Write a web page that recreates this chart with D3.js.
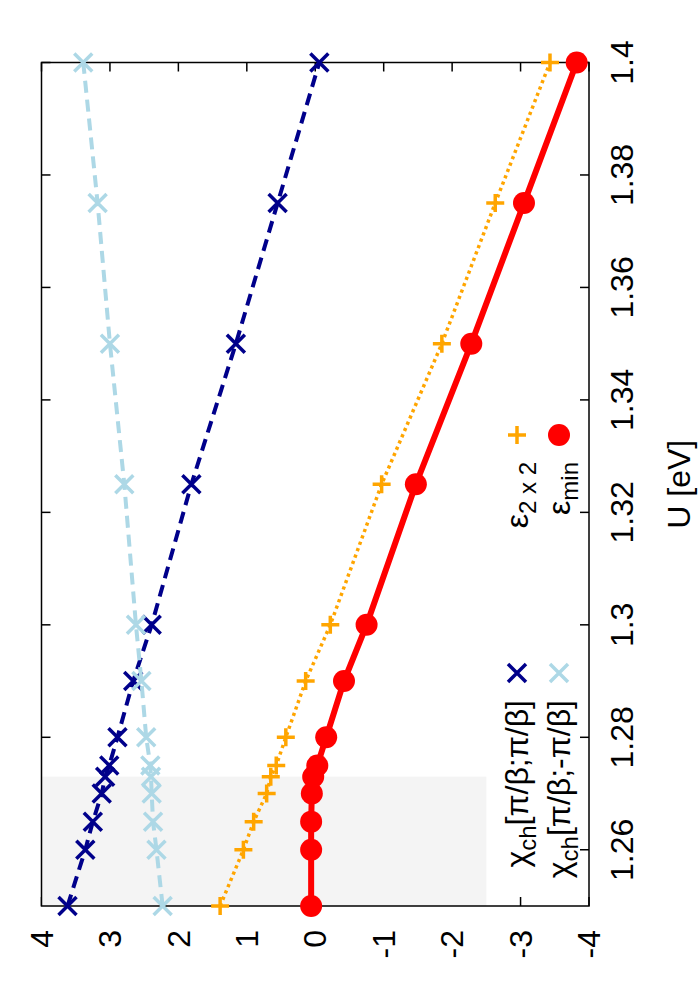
<!DOCTYPE html>
<html>
<head>
<meta http-equiv="Content-Type" content="text/html; charset=utf-8" />
<title>chi / epsilon vs U</title>
<script type="text/javascript" src="https://cdn.jsdelivr.net/npm/d3@7/dist/d3.min.js"></script>
<style>
body { margin:0; background:#fff; }
text { font-family: "Liberation Sans", Arial, Helvetica, sans-serif; }
</style>
</head>
<body>
<div id="chart"></div>

<script>
// data (U in eV)
var U        = [1.25, 1.26, 1.265, 1.27, 1.273, 1.275, 1.28, 1.29, 1.3, 1.325, 1.35, 1.375, 1.4];
var chiPP    = [3.62, 3.36, 3.25, 3.12, 3.07, 3.01, 2.89, 2.66, 2.39, 1.81, 1.16, 0.55, -0.06];
var chiPM    = [2.23, 2.32, 2.37, 2.39, 2.40, 2.41, 2.47, 2.54, 2.62, 2.79, 3.00, 3.18, 3.39];
var eps2x2   = [1.39, 1.05, 0.90, 0.71, 0.65, 0.57, 0.43, 0.14, -0.22, -0.97, -1.85, -2.63, -3.43];
var epsMin   = [0.06, 0.06, 0.06, 0.05, 0.03, -0.03, -0.16, -0.42, -0.75, -1.47, -2.28, -3.05, -3.82];

var xTicks = [1.26, 1.28, 1.3, 1.32, 1.34, 1.36, 1.38, 1.4];
var xTickLabels = ["1.26", "1.28", "1.3", "1.32", "1.34", "1.36", "1.38", "1.4"];
var yTicks = [-4, -3, -2, -1, 0, 1, 2, 3, 4];
var yTickLabels = ["-4", "-3", "-2", "-1", "0", "1", "2", "3", "4"];

// shaded region (U range, value range)
var shadeU = [1.25, 1.273];
var shadeV = [-2.5, 4];

// page is 700x1000, chart is drawn landscape 1000x700 then turned -90deg
const W = 1000, H = 700;
const margin = ({top: 41.5, right: 62.5, bottom: 111, left: 94});

const svg = d3.select("#chart").append("svg")
	.attr("width", 700)
	.attr("height", 1000);
svg.append("rect").attr("width", 700).attr("height", 1000).attr("fill", "#fff");

const g = svg.append("g")
	.attr("transform", "translate(0,1000) rotate(-90)");

var x = d3.scaleLinear().domain([1.25, 1.4]).range([margin.left, W - margin.right]);
var y = d3.scaleLinear().domain([-4, 4]).range([H - margin.bottom, margin.top]);

var x0 = x.range()[0], x1 = x.range()[1];
var y0 = y.range()[1], y1 = y.range()[0];
var tickLen = 9;

// ticks on all four sides (drawn under the grey box)
var ticks = g.append("g").attr("stroke", "#000").attr("stroke-width", 1.5);
xTicks.forEach(function(t){
	ticks.append("line").attr("x1", x(t)).attr("x2", x(t)).attr("y1", y1).attr("y2", y1 - tickLen);
	ticks.append("line").attr("x1", x(t)).attr("x2", x(t)).attr("y1", y0).attr("y2", y0 + tickLen);
});
yTicks.forEach(function(t){
	ticks.append("line").attr("x1", x0).attr("x2", x0 + tickLen).attr("y1", y(t)).attr("y2", y(t));
	ticks.append("line").attr("x1", x1).attr("x2", x1 - tickLen).attr("y1", y(t)).attr("y2", y(t));
});

g.append("rect")
	.attr("x", x(shadeU[0]))
	.attr("y", y(shadeV[1]))
	.attr("width", x(shadeU[1]) - x(shadeU[0]))
	.attr("height", y(shadeV[0]) - y(shadeV[1]))
	.attr("fill", "#f4f4f4");

g.append("rect")
	.attr("x", x0).attr("y", y0)
	.attr("width", x1 - x0).attr("height", y1 - y0)
	.attr("fill", "none")
	.attr("stroke", "#000")
	.attr("stroke-width", 1.5);

// tick labels
g.append("g").selectAll("text")
	.data(xTicks)
	.enter().append("text")
		.attr("x", d => x(d))
		.attr("y", y1 + 44)
		.attr("text-anchor", "middle")
		.attr("font-size", 32)
		.text((d, i) => xTickLabels[i]);

g.append("g").selectAll("text")
	.data(yTicks)
	.enter().append("text")
		.attr("x", x0 - 24)
		.attr("y", d => y(d))
		.attr("dy", "0.35em")
		.attr("text-anchor", "end")
		.attr("font-size", 32)
		.text((d, i) => yTickLabels[i]);

g.append("text")
	.attr("x", (x0 + x1) / 2)
	.attr("y", 690)
	.attr("text-anchor", "middle")
	.attr("font-size", 32)
	.text("U [eV]");

// markers
function crossPath(s){ return "M" + (-s) + "," + (-s) + "L" + s + "," + s + "M" + (-s) + "," + s + "L" + s + "," + (-s); }
function plusPath(s){ return "M" + (-s) + ",0L" + s + ",0M0," + (-s) + "L0," + s; }

var series = [
	{name: "chiPP", vals: chiPP, color: "#00008b", width: 4, dash: "12,7", mark: "x"},
	{name: "chiPM", vals: chiPM, color: "#add8e6", width: 4, dash: "12,7", mark: "x"},
	{name: "eps2x2", vals: eps2x2, color: "#ffa500", width: 3.5, dash: "3.2,3.6", mark: "+"},
	{name: "epsMin", vals: epsMin, color: "#ff0000", width: 6, dash: null, mark: "o"}
];

function drawMark(sel, s){
	if (s.mark === "o") {
		sel.append("circle").attr("r", 11).attr("fill", s.color);
	} else {
		sel.append("path")
			.attr("d", s.mark === "x" ? crossPath(9) : plusPath(9))
			.attr("stroke", s.color)
			.attr("stroke-width", 3.5)
			.attr("fill", "none");
	}
}

series.forEach(function(s){
	var pts = U.map((u, i) => [u, s.vals[i]]);
	var line = d3.line().x(d => x(d[0])).y(d => y(d[1]));
	g.append("path")
		.datum(pts)
		.attr("d", line)
		.attr("fill", "none")
		.attr("stroke", s.color)
		.attr("stroke-width", s.width)
		.attr("stroke-dasharray", s.dash);
	pts.forEach(function(p){
		var m = g.append("g").attr("transform", "translate(" + x(p[0]) + "," + y(p[1]) + ")");
		drawMark(m, s);
	});
});

// legend: two blocks, label right-aligned before the marker
var legend = [
	{s: 0, main: "\u03c7", sub: "ch", rest: "[\u03c0/\u03b2;\u03c0/\u03b2]", tx: 300, mx: 327, ly: 517},
	{s: 1, main: "\u03c7", sub: "ch", rest: "[\u03c0/\u03b2;-\u03c0/\u03b2]", tx: 300, mx: 327, ly: 559},
	{s: 2, main: "\u03b5", sub: "2 x 2", rest: "", tx: 538, mx: 565, ly: 517},
	{s: 3, main: "\u03b5", sub: "min", rest: "", tx: 538, mx: 565, ly: 559}
];

legend.forEach(function(l){
	var t = g.append("text")
		.attr("x", l.tx)
		.attr("y", l.ly + 11)
		.attr("text-anchor", "end")
		.attr("font-size", 32);
	t.append("tspan").text(l.main);
	t.append("tspan").attr("font-size", 24).attr("dy", 8).text(l.sub);
	if (l.rest) t.append("tspan").attr("dy", -8).text(l.rest);
	var m = g.append("g").attr("transform", "translate(" + l.mx + "," + l.ly + ")");
	drawMark(m, series[l.s]);
});
</script>
</body>
</html>
